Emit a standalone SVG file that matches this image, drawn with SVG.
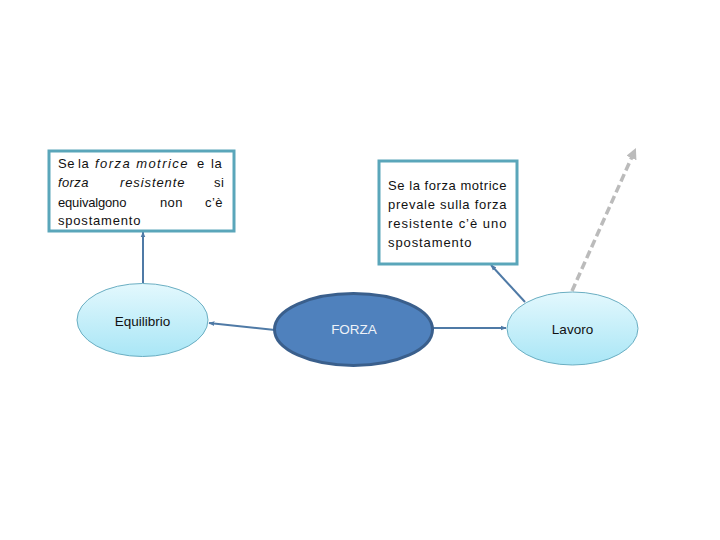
<svg xmlns="http://www.w3.org/2000/svg" width="720" height="540" viewBox="0 0 720 540">
<defs>
<linearGradient id="lb" x1="0" y1="0" x2="0" y2="1">
<stop offset="0" stop-color="#e3f8fd"/>
<stop offset="1" stop-color="#a9e6f6"/>
</linearGradient>
<marker id="ah" viewBox="0 0 10 10" refX="9" refY="5" markerWidth="6" markerHeight="6" orient="auto" markerUnits="userSpaceOnUse">
<path d="M0,1 L10,5 L0,9 z" fill="#4f7aa6"/>
</marker>
<marker id="ahg" viewBox="0 0 10 10" refX="8" refY="5" markerWidth="11" markerHeight="11" orient="auto" markerUnits="userSpaceOnUse">
<path d="M0,0 L10,5 L0,10 z" fill="#bbbbbb"/>
</marker>
<style>
.box{fill:#ffffff;stroke:#5aa6ba;stroke-width:3}
.t{font-family:"Liberation Sans",Arial,sans-serif;font-size:13px;fill:#111;letter-spacing:0.6px}
.i{font-style:italic}
.lb{fill:url(#lb);stroke:#6aaec2;stroke-width:1}
.nl{font-family:"Liberation Sans",Arial,sans-serif;font-size:13.5px;fill:#111;text-anchor:middle}
.c{stroke:#4f7aa6;stroke-width:2;fill:none}
</style>
</defs>
<rect width="720" height="540" fill="#ffffff"/>
<g id="connectors">
<line class="c" x1="143" y1="283" x2="143" y2="232" marker-end="url(#ah)"/>
<line class="c" x1="275" y1="330" x2="209" y2="323" marker-end="url(#ah)"/>
<line class="c" x1="433" y1="328" x2="506" y2="328" marker-end="url(#ah)"/>
<line class="c" x1="525" y1="302" x2="491" y2="265" marker-end="url(#ah)"/>
<path d="M572,291 L635,150" fill="none" stroke="#bbbbbb" stroke-width="3.5" stroke-dasharray="8,4" marker-end="url(#ahg)"/>
</g>
<g id="box1">
<rect class="box" x="49" y="151" width="185" height="80"/>
<text class="t" y="168"><tspan x="58">Se</tspan><tspan x="78">la</tspan><tspan x="95" class="i" textLength="93" lengthAdjust="spacing">forza motrice</tspan><tspan x="197">e</tspan><tspan x="211">la</tspan></text>
<text class="t" y="187"><tspan x="58" class="i" textLength="31" lengthAdjust="spacing">forza</tspan><tspan x="120" class="i" textLength="65" lengthAdjust="spacing">resistente</tspan><tspan x="214">si</tspan></text>
<text class="t" y="207"><tspan x="58" textLength="69" lengthAdjust="spacing">equivalgono</tspan><tspan x="160" textLength="23" lengthAdjust="spacing">non</tspan><tspan x="205" textLength="18" lengthAdjust="spacing">c’è</tspan></text>
<text class="t" y="225"><tspan x="58" textLength="83" lengthAdjust="spacing">spostamento</tspan></text>
</g>
<g id="box2">
<rect class="box" x="379" y="161" width="138" height="103"/>
<text class="t" x="388" y="190" textLength="119" lengthAdjust="spacing">Se la forza motrice</text>
<text class="t" x="388" y="209" textLength="119" lengthAdjust="spacing">prevale sulla forza</text>
<text class="t" x="388" y="228" textLength="119" lengthAdjust="spacing">resistente c’è uno</text>
<text class="t" x="388" y="247" textLength="84" lengthAdjust="spacing">spostamento</text>
</g>
<g id="equilibrio">
<ellipse class="lb" cx="142.5" cy="320" rx="65.5" ry="36.5"/>
<text class="nl" x="142.5" y="326">Equilibrio</text>
</g>
<g id="forza">
<ellipse cx="353.5" cy="329.5" rx="79" ry="36" fill="#4f81bd" stroke="#3a5f8c" stroke-width="3"/>
<text class="nl" x="354" y="334" style="fill:#eef2f8">FORZA</text>
</g>
<g id="lavoro">
<ellipse class="lb" cx="572.5" cy="328.5" rx="65.5" ry="36.5"/>
<text class="nl" x="572.5" y="334">Lavoro</text>
</g>
</svg>
